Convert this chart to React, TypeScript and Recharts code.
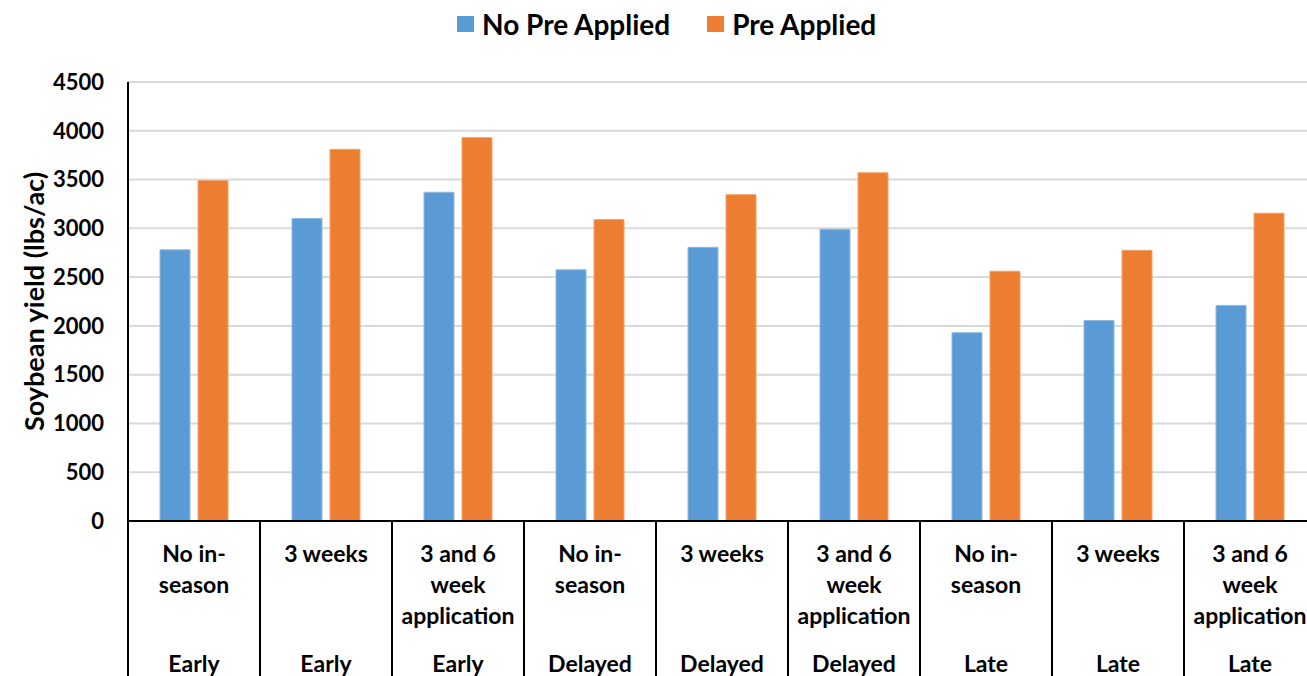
import React from "react";
import { BarChart, Bar, XAxis, YAxis, CartesianGrid, Legend, Label } from "recharts";

const timings = ["Early", "Early", "Early", "Delayed", "Delayed", "Delayed", "Late", "Late", "Late"];
const treatments = [
  ["No in-", "season"],
  ["3 weeks"],
  ["3 and 6", "week", "application"],
  ["No in-", "season"],
  ["3 weeks"],
  ["3 and 6", "week", "application"],
  ["No in-", "season"],
  ["3 weeks"],
  ["3 and 6", "week", "application"],
];
const noPreApplied = [2780, 3100, 3370, 2575, 2805, 2990, 1930, 2055, 2210];
const preApplied = [3490, 3810, 3930, 3090, 3345, 3570, 2560, 2775, 3155];
const yTicks = [0, 500, 1000, 1500, 2000, 2500, 3000, 3500, 4000, 4500];

const BLUE = "#5B9BD5";
const ORANGE = "#ED7D31";
const FONT = "Lato, 'Open Sans', sans-serif";

const CHART_W = 1330;
const CHART_H = 700;
const MARGIN = { top: 82, right: 14, bottom: 0, left: 0 };
const Y_W = 128;
const BAND = (CHART_W - MARGIN.left - MARGIN.right - Y_W) / timings.length;

const data = timings.map((t, i) => ({
  key: String(i),
  timing: t,
  treatment: treatments[i],
  noPre: noPreApplied[i],
  pre: preApplied[i],
}));

const XTick = (props: any) => {
  const { x, y, payload } = props;
  const i = Number(payload.value);
  const row = data[i];
  return (
    <g>
      <line x1={x - BAND / 2} x2={x - BAND / 2} y1={y} y2={y + 200} stroke="#000" strokeWidth={2} />
      {i === data.length - 1 && (
        <line x1={x + BAND / 2} x2={x + BAND / 2} y1={y} y2={y + 200} stroke="#000" strokeWidth={2} />
      )}
      {row.treatment.map((line, k) => (
        <text
          key={k}
          x={x}
          y={y + 32 + k * 31}
          textAnchor="middle"
          dominantBaseline="central"
          fontFamily={FONT}
          fontWeight="bold"
          fontSize={23}
          fill="#000"
        >
          {line}
        </text>
      ))}
      <text
        x={x}
        y={y + 142}
        textAnchor="middle"
        dominantBaseline="central"
        fontFamily={FONT}
        fontWeight="bold"
        fontSize={23}
        fill="#000"
      >
        {row.timing}
      </text>
    </g>
  );
};

const LegendContent = () => (
  <div style={{ display: "flex", alignItems: "center", fontFamily: FONT, fontWeight: "bold", fontSize: 28 }}>
    {[
      { name: "No Pre Applied", color: BLUE },
      { name: "Pre Applied", color: ORANGE },
    ].map((item, k) => (
      <div key={k} style={{ display: "flex", alignItems: "center", marginRight: k === 0 ? 37 : 0 }}>
        <span style={{ width: 17, height: 16, background: item.color, marginRight: 8, display: "inline-block" }} />
        <span style={{ color: "#000", whiteSpace: "nowrap" }}>{item.name}</span>
      </div>
    ))}
  </div>
);

export default function App() {
  return (
    <div style={{ position: "absolute", left: 0, top: 0, width: 1307, height: 676, overflow: "hidden", background: "#fff" }}>
      <BarChart
        width={CHART_W}
        height={CHART_H}
        data={data}
        margin={MARGIN}
        barCategoryGap={32}
        barGap={8}
      >
        <CartesianGrid vertical={false} stroke="#D9D9D9" strokeWidth={2} />
        <XAxis
          dataKey="key"
          type="category"
          height={CHART_H - 521}
          axisLine={{ stroke: "#000", strokeWidth: 2 }}
          tickLine={false}
          tickSize={0}
          tickMargin={0}
          interval={0}
          tick={<XTick />}
        />
        <YAxis
          width={Y_W}
          domain={[0, 4500]}
          ticks={yTicks}
          interval={0}
          axisLine={{ stroke: "#000", strokeWidth: 2 }}
          tickLine={false}
          tickSize={0}
          tickMargin={24}
          tick={{ fill: "#000", fontSize: 22, fontWeight: "bold", fontFamily: FONT }}
          label={
            <Label
              content={(p: any) => {
                const vb = p.viewBox;
                return (
                  <text
                    transform={`translate(${vb.x + 33},${vb.y + vb.height / 2}) rotate(-90)`}
                    textAnchor="middle"
                    dominantBaseline="central"
                    fontFamily={FONT}
                    fontWeight="bold"
                    fontSize={27}
                    fill="#000"
                  >
                    Soybean yield (lbs/ac)
                  </text>
                );
              }}
            />
          }
        />
        <Legend
          verticalAlign="middle"
          align="center"
          layout="horizontal"
          wrapperStyle={{ top: 7, left: 457, width: "auto" }}
          content={<LegendContent />}
        />
        <Bar dataKey="noPre" name="No Pre Applied" fill={BLUE} stroke="#8DB9E3" strokeWidth={1} isAnimationActive={false} />
        <Bar dataKey="pre" name="Pre Applied" fill={ORANGE} stroke="#F3A26D" strokeWidth={1} isAnimationActive={false} />
      </BarChart>
    </div>
  );
}
